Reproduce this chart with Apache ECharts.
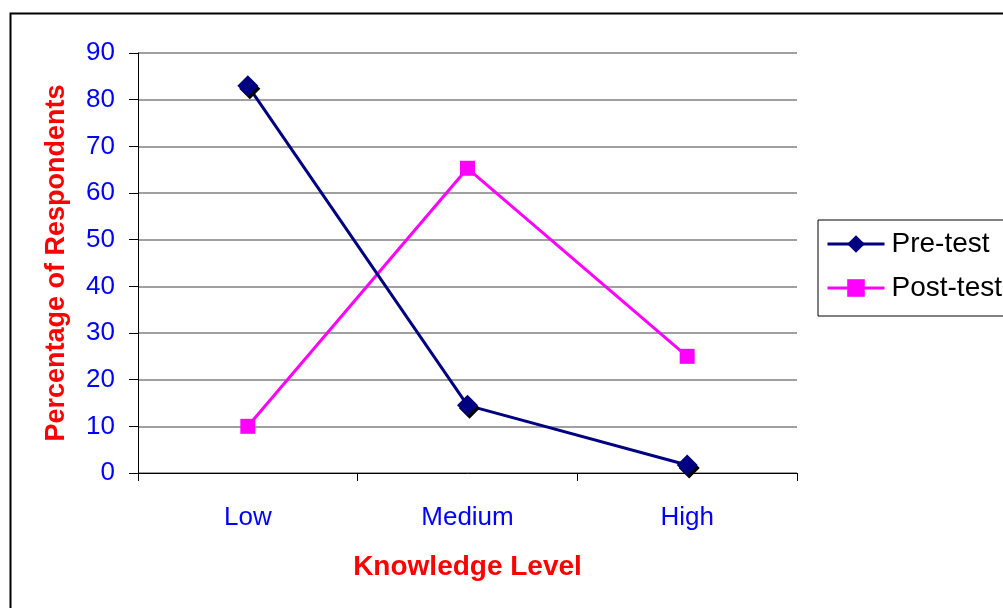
<!DOCTYPE html>
<html>
<head>
<meta charset="utf-8">
<script src="https://cdn.jsdelivr.net/npm/echarts@6/dist/echarts.min.js"></script>
<style>
  html, body { margin: 0; padding: 0; background: #fff; }
  #chart { width: 1003px; height: 608px; }
</style>
</head>
<body>
<div id="chart"></div>
<script>
// Knowledge level of respondents before and after the test
const categories = ['Low', 'Medium', 'High'];
const preTest = [83, 14.5, 1.7];
const postTest = [10, 65.3, 25];
const yTicks = { min: 0, max: 90, interval: 10 };

const FONT = '"Liberation Sans", Arial, sans-serif';

const chart = echarts.init(document.getElementById('chart'), null, { renderer: 'canvas' });

chart.setOption({
  backgroundColor: '#ffffff',
  animation: false,
  graphic: [{
    type: 'rect',
    left: 8, top: 11,
    shape: { width: 1020, height: 620 },
    style: { fill: 'none', stroke: '#000', lineWidth: 2 },
    silent: true
  }],
  grid: { left: 138, right: 206, top: 53, bottom: 135, containLabel: false },
  legend: {
    orient: 'vertical',
    left: 818, top: 220,
    padding: [10, 30, 14, 8],
    itemWidth: 57, itemHeight: 22,
    itemGap: 16,
    borderColor: '#000', borderWidth: 1,
    lineStyle: { width: 3 },
    textStyle: { fontFamily: FONT, fontSize: 28, color: '#000', padding: [0, 0, 0, 2] },
    data: ['Pre-test', 'Post-test']
  },
  xAxis: {
    type: 'category',
    data: categories,
    boundaryGap: true,
    name: 'Knowledge Level',
    nameLocation: 'middle',
    nameGap: 80,
    nameTextStyle: { fontFamily: FONT, fontSize: 28, fontWeight: 'bold', color: '#ff0000' },
    axisLine: { lineStyle: { color: '#000', width: 1 } },
    axisTick: { show: true, length: 8, alignWithLabel: false, lineStyle: { color: '#000' } },
    axisLabel: { fontFamily: FONT, fontSize: 26, color: '#0000ff', margin: 32 },
    splitLine: { show: false }
  },
  yAxis: {
    type: 'value',
    min: yTicks.min, max: yTicks.max, interval: yTicks.interval,
    name: 'Percentage of Respondents',
    nameLocation: 'middle',
    nameGap: 68,
    nameRotate: 90,
    nameTextStyle: { fontFamily: FONT, fontSize: 27, fontWeight: 'bold', color: '#ff0000' },
    axisLine: { show: true, lineStyle: { color: '#000', width: 1 } },
    axisTick: { show: true, length: 9, lineStyle: { color: '#000' } },
    axisLabel: { fontFamily: FONT, fontSize: 26, color: '#0000ff', margin: 23 },
    splitLine: { show: true, lineStyle: { color: '#808080', width: 1.5 } }
  },
  series: [
    {
      name: 'Pre-test',
      type: 'line',
      data: preTest,
      symbol: 'diamond',
      symbolSize: 21,
      lineStyle: { color: '#000080', width: 3 },
      itemStyle: {
        color: '#000080',
        shadowColor: '#000', shadowOffsetX: 2, shadowOffsetY: 3, shadowBlur: 0
      },
      z: 3
    },
    {
      name: 'Post-test',
      type: 'line',
      data: postTest,
      symbol: 'rect',
      symbolSize: 15,
      lineStyle: { color: '#ff00ff', width: 3 },
      itemStyle: { color: '#ff00ff' },
      z: 2
    }
  ]
});
</script>
</body>
</html>
